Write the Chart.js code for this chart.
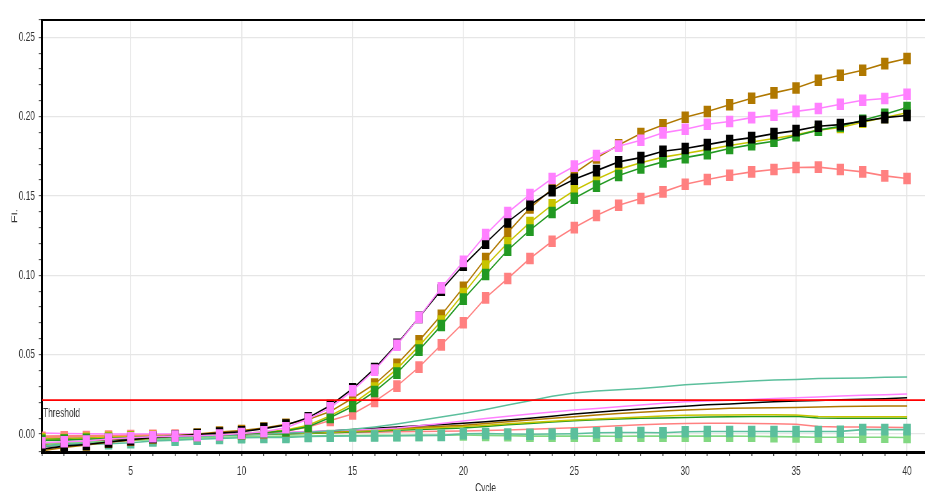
<!DOCTYPE html>
<html>
<head>
<meta charset="utf-8">
<script src="https://cdn.jsdelivr.net/npm/chart.js@4/dist/chart.umd.min.js"></script>
<style>
  html, body { margin: 0; padding: 0; background: #fff; overflow: hidden; width: 925px; height: 491px; }
  #wrap { position: absolute; left: 0; top: 0; width: 1460px; height: 510px; transform: scaleX(0.64); transform-origin: 0 0; }
  canvas { display: block; }
</style>
</head>
<body>
<div id="wrap"><canvas id="c" width="1460" height="510" style="width:1460px;height:510px"></canvas></div>
<script>
// Amplification run: fluorescence per cycle
const cycles = [1,2,3,4,5,6,7,8,9,10,11,12,13,14,15,16,17,18,19,20,21,22,23,24,25,26,27,28,29,30,31,32,33,34,35,36,37,38,39,40];

const threshold = 0.0214;

// wells with a clear amplification curve (drawn with markers)
const pinkAmp   = [-0.0055,-0.0048,-0.0044,-0.0031,-0.0023,-0.0017,-0.0013,-0.0011,-0.0006,0.0004,0.0015,0.0040,0.0095,0.0166,0.0273,0.0403,0.0560,0.0735,0.0921,0.1088,0.1257,0.1396,0.1509,0.1610,0.1688,0.1755,0.1814,0.1851,0.1898,0.1921,0.1952,0.1969,0.1994,0.2009,0.2033,0.2051,0.2078,0.2103,0.2114,0.2141];
const blackAmp  = [-0.0095,-0.0076,-0.0066,-0.0050,-0.0035,-0.0022,-0.0012,-0.0003,0.0006,0.0015,0.0034,0.0057,0.0103,0.0180,0.0285,0.0413,0.0566,0.0735,0.0907,0.1064,0.1203,0.1337,0.1444,0.1534,0.1606,0.1660,0.1715,0.1742,0.1782,0.1799,0.1824,0.1849,0.1868,0.1893,0.1912,0.1940,0.1950,0.1971,0.1994,0.2007];
const brownAmp  = [-0.0105,-0.0085,-0.0068,-0.0052,-0.0038,-0.0025,-0.0012,0.0000,0.0012,0.0022,0.0038,0.0062,0.0092,0.0142,0.0225,0.0315,0.0439,0.0588,0.0749,0.0924,0.1106,0.1270,0.1424,0.1544,0.1644,0.1740,0.1822,0.1894,0.1948,0.1996,0.2032,0.2075,0.2116,0.2150,0.2181,0.2229,0.2261,0.2292,0.2334,0.2366];
const yellowAmp = [-0.0030,-0.0035,-0.0026,-0.0020,-0.0017,-0.0014,-0.0011,-0.0008,-0.0004,0.0003,0.0012,0.0025,0.0055,0.0115,0.0190,0.0290,0.0410,0.0555,0.0712,0.0885,0.1058,0.1205,0.1333,0.1444,0.1535,0.1606,0.1668,0.1710,0.1745,0.1768,0.1792,0.1818,0.1840,0.1862,0.1885,0.1915,0.1932,0.1965,0.1995,0.2025];
const greenAmp  = [-0.0040,-0.0038,-0.0033,-0.0028,-0.0022,-0.0017,-0.0013,-0.0009,-0.0005,0.0000,0.0008,0.0020,0.0046,0.0105,0.0174,0.0268,0.0384,0.0529,0.0684,0.0850,0.1005,0.1159,0.1285,0.1396,0.1486,0.1562,0.1629,0.1677,0.1715,0.1742,0.1767,0.1799,0.1824,0.1845,0.1880,0.1915,0.1940,0.1977,0.2015,0.2058];
const salmonAmp = [-0.0020,-0.0018,-0.0015,-0.0012,-0.0010,-0.0008,-0.0006,-0.0004,-0.0002,0.0000,0.0006,0.0018,0.0045,0.0085,0.0126,0.0205,0.0302,0.0422,0.0562,0.0701,0.0858,0.0980,0.1106,0.1215,0.1301,0.1377,0.1442,0.1484,0.1526,0.1574,0.1604,0.1631,0.1652,0.1667,0.1680,0.1682,0.1667,0.1652,0.1627,0.1610];

// flat wells drawn with markers
const tealFlat       = [-0.0076,-0.0070,-0.0066,-0.0060,-0.0055,-0.0044,-0.0038,-0.0033,-0.0028,-0.0023,-0.0022,-0.0022,-0.0015,-0.0013,-0.0012,-0.0012,-0.0011,-0.0008,-0.0008,0.0002,0.0004,0.0000,-0.0001,0.0000,0.0002,0.0008,0.0010,0.0010,0.0008,0.0015,0.0016,0.0016,0.0016,0.0016,0.0016,0.0016,0.0017,0.0028,0.0028,0.0028];
const lightGreenFlat = [-0.0060,-0.0055,-0.0050,-0.0045,-0.0040,-0.0035,-0.0030,-0.0025,-0.0020,-0.0018,-0.0015,-0.0013,-0.0012,-0.0010,-0.0009,-0.0008,-0.0008,-0.0008,-0.0007,-0.0006,-0.0008,-0.0010,-0.0013,-0.0013,-0.0013,-0.0013,-0.0014,-0.0013,-0.0013,-0.0013,-0.0013,-0.0013,-0.0014,-0.0016,-0.0018,-0.0020,-0.0020,-0.0020,-0.0020,-0.0022];

// low-level wells drawn as plain lines
const tealLow   = [-0.0075,-0.0064,-0.0054,-0.0045,-0.0037,-0.0030,-0.0023,-0.0017,-0.0011,-0.0006,-0.0001,0.0005,0.0012,0.0020,0.0030,0.0045,0.0063,0.0085,0.0108,0.0130,0.0155,0.0183,0.0210,0.0238,0.0258,0.0271,0.0280,0.0287,0.0298,0.0310,0.0318,0.0326,0.0334,0.0340,0.0344,0.0350,0.0352,0.0353,0.0358,0.0360];
const pinkLow   = [0.0006,0.0004,0.0002,0.0001,0.0000,0.0000,0.0000,0.0001,0.0003,0.0005,0.0008,0.0012,0.0016,0.0021,0.0026,0.0031,0.0038,0.0052,0.0067,0.0083,0.0098,0.0113,0.0127,0.0139,0.0151,0.0161,0.0172,0.0183,0.0194,0.0203,0.0208,0.0213,0.0218,0.0224,0.0229,0.0234,0.0240,0.0244,0.0248,0.0253];
const blackLow  = [-0.0078,-0.0065,-0.0053,-0.0043,-0.0034,-0.0026,-0.0019,-0.0013,-0.0008,-0.0003,0.0002,0.0007,0.0013,0.0020,0.0028,0.0036,0.0045,0.0053,0.0060,0.0068,0.0078,0.0089,0.0100,0.0113,0.0126,0.0137,0.0148,0.0158,0.0167,0.0176,0.0184,0.0190,0.0197,0.0203,0.0208,0.0212,0.0216,0.0219,0.0223,0.0229];
const brownLow  = [-0.0065,-0.0055,-0.0046,-0.0038,-0.0030,-0.0023,-0.0017,-0.0012,-0.0007,-0.0003,0.0001,0.0006,0.0011,0.0017,0.0023,0.0030,0.0037,0.0043,0.0049,0.0055,0.0066,0.0077,0.0088,0.0099,0.0109,0.0120,0.0130,0.0138,0.0145,0.0151,0.0157,0.0162,0.0164,0.0166,0.0168,0.0171,0.0174,0.0176,0.0177,0.0177];
const yellowLow = [-0.0020,-0.0018,-0.0016,-0.0014,-0.0012,-0.0010,-0.0008,-0.0006,-0.0004,-0.0002,0.0000,0.0003,0.0007,0.0012,0.0017,0.0023,0.0030,0.0036,0.0042,0.0047,0.0056,0.0065,0.0073,0.0081,0.0088,0.0095,0.0102,0.0108,0.0114,0.0118,0.0120,0.0120,0.0121,0.0121,0.0120,0.0110,0.0109,0.0109,0.0109,0.0109];
const greenLow  = [-0.0030,-0.0027,-0.0024,-0.0021,-0.0018,-0.0015,-0.0012,-0.0009,-0.0006,-0.0004,-0.0002,0.0000,0.0004,0.0008,0.0013,0.0018,0.0024,0.0029,0.0034,0.0038,0.0048,0.0058,0.0067,0.0076,0.0084,0.0090,0.0095,0.0099,0.0102,0.0105,0.0107,0.0109,0.0110,0.0111,0.0112,0.0102,0.0100,0.0100,0.0100,0.0100];
const salmonLow = [-0.0012,-0.0011,-0.0010,-0.0009,-0.0008,-0.0007,-0.0005,-0.0003,-0.0002,0.0000,0.0002,0.0004,0.0006,0.0008,0.0010,0.0012,0.0014,0.0016,0.0018,0.0019,0.0022,0.0026,0.0030,0.0035,0.0040,0.0046,0.0052,0.0058,0.0063,0.0067,0.0068,0.0068,0.0067,0.0065,0.0062,0.0047,0.0045,0.0044,0.0043,0.0042];

const C = {
  pink: '#ff80ff', black: '#000000', brown: '#b07800', yellow: '#c8c400',
  green: '#229922', salmon: '#ff8080', teal: '#5bbf9c', lightGreen: '#82d882'
};

const FONT = "'Liberation Sans', Arial, sans-serif";
const X_MIN = 1, X_MAX = 41, Y_MIN = -0.0113, Y_MAX = 0.2609;

function pts(values) { return cycles.map((c, i) => ({ x: c, y: values[i] })); }

function marked(values, color) {
  return { data: pts(values), borderColor: color, backgroundColor: color, borderWidth: 1.6,
           pointStyle: 'rect', pointRadius: 8.2, pointBorderWidth: 0, pointBackgroundColor: color, tension: 0 };
}
function plain(values, color) {
  return { data: pts(values), borderColor: color, borderWidth: 1.5, pointRadius: 0, tension: 0 };
}

// first dataset is painted on top
const datasets = [
  { data: [{ x: X_MIN, y: threshold }, { x: X_MAX, y: threshold }], borderColor: '#ff0000', borderWidth: 1.6, pointRadius: 0 },
  marked(pinkAmp, C.pink),
  marked(blackAmp, C.black),
  marked(greenAmp, C.green),
  marked(yellowAmp, C.yellow),
  marked(brownAmp, C.brown),
  marked(salmonAmp, C.salmon),
  marked(tealFlat, C.teal),
  marked(lightGreenFlat, C.lightGreen),
  plain(tealLow, C.teal),
  plain(pinkLow, C.pink),
  plain(blackLow, C.black),
  plain(brownLow, C.brown),
  plain(yellowLow, C.yellow),
  plain(greenLow, C.green),
  plain(salmonLow, C.salmon)
];

const isMajor = (v, step) => Math.abs(v / step - Math.round(v / step)) < 1e-6;

const decorations = {
  id: 'decorations',
  afterDraw(chart) {
    const { ctx, chartArea: a, scales } = chart;
    ctx.save();
    // frame line along the top of the plot
    ctx.strokeStyle = '#000';
    ctx.lineWidth = 2;
    ctx.beginPath();
    ctx.moveTo(a.left - 1.5, a.top);
    ctx.lineTo(chart.width, a.top);
    ctx.stroke();
    // threshold caption
    ctx.fillStyle = '#333';
    ctx.font = '13px ' + FONT;
    ctx.textAlign = 'left';
    ctx.textBaseline = 'middle';
    ctx.fillText('Threshold', a.left + 1.6, scales.y.getPixelForValue(threshold) + 13);
    // vertical axis title
    ctx.translate(a.left - 42.2, 216);
    ctx.rotate(-Math.PI / 2);
    ctx.textAlign = 'center';
    ctx.fillText('Fl.', 0, 0);
    ctx.restore();
  }
};

new Chart(document.getElementById('c'), {
  type: 'line',
  data: { datasets },
  options: {
    responsive: false,
    animation: false,
    events: [],
    layout: { padding: { left: 0, right: 7, top: 20, bottom: 0 } },
    plugins: { legend: { display: false }, tooltip: { enabled: false } },
    scales: {
      x: {
        type: 'linear', min: X_MIN, max: X_MAX,
        afterFit: s => { s.height = 58; },
        ticks: {
          stepSize: 1, maxTicksLimit: 100, autoSkip: false, maxRotation: 0, padding: 8,
          color: '#333', font: { size: 13, family: FONT },
          callback: v => (isMajor(v, 5) ? String(v) : '')
        },
        grid: {
          color: c => (c.tick && isMajor(c.tick.value, 5) ? '#e6e6e6' : 'rgba(0,0,0,0)'),
          lineWidth: 1.6, tickColor: '#444', tickLength: 4, tickWidth: 1.5
        },
        border: { color: '#000', width: 3 },
        title: { display: true, text: 'Cycle', color: '#333', font: { size: 13, family: FONT }, padding: { top: 0, bottom: 14 } }
      },
      y: {
        min: Y_MIN, max: Y_MAX,
        afterFit: s => { s.width = 65.6; },
        ticks: {
          stepSize: 0.01, maxTicksLimit: 100, autoSkip: false, padding: 6,
          color: '#333', font: { size: 13, family: FONT },
          callback: v => (isMajor(v, 0.05) ? v.toFixed(2) : '')
        },
        grid: {
          color: c => (c.tick && isMajor(c.tick.value, 0.05) ? '#e6e6e6' : 'rgba(0,0,0,0)'),
          lineWidth: 1.3, tickColor: '#444', tickLength: 5, tickWidth: 1
        },
        border: { color: '#000', width: 3 }
      }
    }
  },
  plugins: [decorations]
});
</script>
</body>
</html>
